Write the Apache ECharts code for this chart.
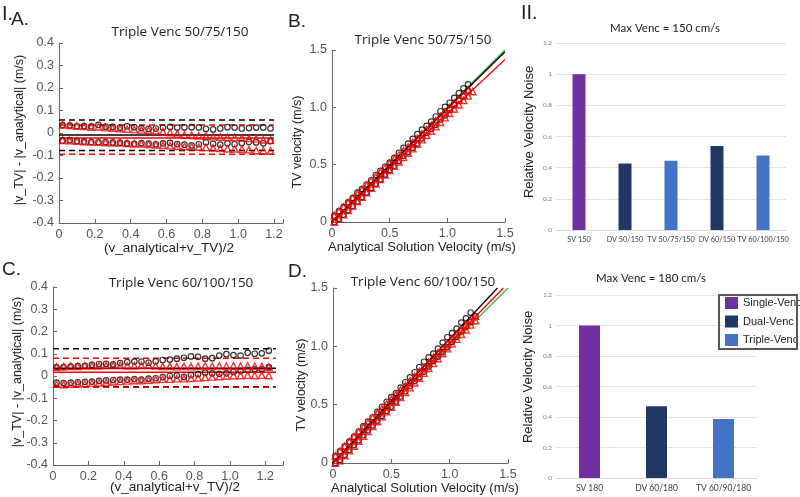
<!DOCTYPE html>
<html><head><meta charset="utf-8">
<script src="https://cdn.jsdelivr.net/npm/echarts@6/dist/echarts.min.js"></script>
<style>html,body{margin:0;padding:0;background:#fff}#c{width:800px;height:497px}</style>
</head><body><div id="c"></div>
<script>
// ---------- Panel A (Bland-Altman, Triple Venc 50/75/150) ----------
const aX = [0.02,0.06,0.10,0.14,0.18,0.22,0.26,0.30,0.34,0.38,0.42,0.46,0.50,0.54,0.58,0.62,0.66,0.70,0.74,0.78,0.82,0.86,0.90,0.94,0.98,1.02,1.06,1.10,1.14,1.18];
const aBlackUpper = [0.035,0.034,0.030,0.031,0.030,0.036,0.028,0.027,0.024,0.030,0.026,0.022,0.018,0.020,0.024,0.027,0.024,0.025,0.026,0.025,0.018,0.016,0.020,0.026,0.024,0.020,0.022,0.024,0.025,0.020];
const aBlackLower = [-0.034,-0.032,-0.036,-0.038,-0.040,-0.041,-0.040,-0.042,-0.043,-0.046,-0.048,-0.045,-0.047,-0.050,-0.046,-0.044,-0.049,-0.052,-0.055,-0.050,-0.042,-0.048,-0.052,-0.046,-0.050,-0.044,-0.040,-0.042,-0.046,-0.036];
const aRedUpper = [0.036,0.034,0.031,0.030,0.027,0.028,0.024,0.022,0.020,0.018,0.016,0.014,0.012,0.010,0.006,0.002,-0.004,-0.008,-0.010,-0.012,-0.014,-0.016,-0.018,-0.019,-0.020,-0.022,-0.024,-0.026,-0.030,-0.032];
const aRedLower = [-0.032,-0.034,-0.036,-0.038,-0.039,-0.040,-0.042,-0.043,-0.044,-0.046,-0.048,-0.048,-0.050,-0.052,-0.054,-0.056,-0.058,-0.060,-0.060,-0.062,-0.064,-0.066,-0.068,-0.070,-0.070,-0.072,-0.074,-0.078,-0.078,-0.080];
const aLineX = [0, 1.2];
const aBlackLevels = [-0.009, 0.058, -0.078];   // mean, upper limit, lower limit
const aRedLevels = [-0.022, 0.036, -0.094];

// ---------- Panel C (Bland-Altman, Triple Venc 60/100/150) ----------
const cX = [0.02,0.06,0.10,0.14,0.18,0.22,0.26,0.30,0.34,0.38,0.42,0.46,0.50,0.54,0.58,0.62,0.66,0.70,0.74,0.78,0.82,0.86,0.90,0.94,0.98,1.02,1.06,1.10,1.14,1.18,1.22];
const cBlackUpper = [0.040,0.040,0.042,0.044,0.046,0.050,0.054,0.055,0.052,0.058,0.062,0.065,0.064,0.060,0.066,0.072,0.074,0.078,0.082,0.088,0.086,0.078,0.080,0.092,0.098,0.094,0.092,0.104,0.100,0.102,0.114];
const cBlackLower = [-0.030,-0.032,-0.030,-0.028,-0.026,-0.025,-0.022,-0.020,-0.018,-0.016,-0.016,-0.014,-0.016,-0.012,-0.010,-0.005,0.000,0.002,-0.004,0.004,0.008,0.015,0.012,0.010,0.012,0.018,0.022,0.028,0.030,0.030,0.040];
const cRedUpper = [0.040,0.042,0.044,0.044,0.046,0.046,0.046,0.048,0.048,0.048,0.046,0.046,0.048,0.048,0.046,0.044,0.044,0.042,0.044,0.042,0.044,0.046,0.044,0.046,0.044,0.046,0.044,0.046,0.044,0.042,0.040];
const cRedLower = [-0.036,-0.038,-0.036,-0.034,-0.034,-0.032,-0.030,-0.028,-0.026,-0.024,-0.022,-0.020,-0.020,-0.018,-0.016,-0.014,-0.014,-0.012,-0.012,-0.010,-0.008,-0.006,-0.004,-0.002,0.000,0.002,0.002,0.004,0.002,0.004,0.002];
const cLineX = [0, 1.26];
const cBlackLevels = [0.035, 0.122, -0.048];
const cRedLevels = [0.017, 0.080, -0.050];

// ---------- Panel B (TV vs analytical, 50/75/150) ----------
const bX = [0.02,0.06,0.10,0.14,0.18,0.22,0.26,0.30,0.34,0.38,0.42,0.46,0.50,0.54,0.58,0.62,0.66,0.70,0.74,0.78,0.82,0.86,0.90,0.94,0.98,1.02,1.06,1.10,1.14,1.18,1.22];
const bBlackUpper = [0.055,0.094,0.130,0.171,0.210,0.256,0.288,0.327,0.364,0.410,0.446,0.482,0.518,0.560,0.604,0.647,0.684,0.725,0.766,0.805,0.838,0.876,0.920,0.966,1.004,1.040,1.082,1.124,1.165,1.200];
const bBlackLower = [0.000,0.028,0.064,0.102,0.140,0.179,0.220,0.258,0.297,0.334,0.372,0.415,0.453,0.490,0.534,0.576,0.611,0.648,0.685,0.730,0.778,0.812,0.848,0.894,0.930,0.976,1.020,1.058,1.094,1.144];
const bRedUpper = [0.056,0.094,0.131,0.170,0.207,0.248,0.284,0.322,0.360,0.398,0.436,0.474,0.512,0.550,0.586,0.622,0.656,0.692,0.730,0.768,0.806,0.844,0.882,0.921,0.960,0.998,1.036,1.074,1.110,1.148];
const bRedLower = [0.000,0.026,0.064,0.102,0.141,0.180,0.218,0.257,0.296,0.334,0.372,0.412,0.450,0.488,0.526,0.564,0.602,0.640,0.680,0.718,0.756,0.794,0.832,0.870,0.910,0.948,0.986,1.022,1.062,1.100,1.138];
const bGreenLine = [[0,0],[1.5,1.5]];
const bBlackLine = [[0,0],[1.5,1.485]];
const bRedLine = [[0,0],[1.5,1.418]];

// ---------- Panel D (TV vs analytical, 60/100/150) ----------
const dX = [0.02,0.06,0.10,0.14,0.18,0.22,0.26,0.30,0.34,0.38,0.42,0.46,0.50,0.54,0.58,0.62,0.66,0.70,0.74,0.78,0.82,0.86,0.90,0.94,0.98,1.02,1.06,1.10,1.14,1.18,1.22];
const dBlackUpper = [0.060,0.100,0.142,0.184,0.226,0.270,0.314,0.355,0.392,0.438,0.482,0.525,0.564,0.600,0.646,0.692,0.734,0.778,0.822,0.868,0.906,0.938,0.980,1.032,1.078,1.114,1.152,1.204,1.240,1.290];
const dBlackLower = [0.000,0.028,0.070,0.112,0.154,0.195,0.238,0.280,0.322,0.364,0.404,0.446,0.484,0.528,0.570,0.615,0.660,0.702,0.736,0.784,0.828,0.875,0.912,0.950,0.992,1.038,1.082,1.128,1.170,1.210,1.260];
const dRedUpper = [0.060,0.102,0.144,0.184,0.226,0.266,0.306,0.348,0.388,0.428,0.466,0.506,0.548,0.588,0.626,0.664,0.704,0.742,0.784,0.822,0.864,0.906,0.944,0.986,1.024,1.066,1.104,1.146,1.184,1.222,1.260];
const dRedLower = [0.000,0.022,0.064,0.106,0.146,0.188,0.230,0.272,0.314,0.356,0.398,0.440,0.480,0.522,0.564,0.606,0.646,0.688,0.728,0.770,0.812,0.854,0.896,0.938,0.980,1.022,1.062,1.104,1.142,1.184,1.222];
const dGreenLine = [[0,0],[1.5,1.5]];
const dBlackLine = [[0,0],[1.41,1.5]];
const dRedLine = [[0,0],[1.46,1.5]];

// ---------- Panel II (relative velocity noise) ----------
const vencTypes = ['Single-Venc','Dual-Venc','Triple-Venc'];
const vencColors = ['#7030A0','#203864','#4472C4'];
const topCategories = ['SV 150','DV 50/150','TV 50/75/150','DV 60/150','TV 60/100/150'];
const topValues = [1.0, 0.426, 0.444, 0.539, 0.478];
const topTypes = ['Single-Venc','Dual-Venc','Triple-Venc','Dual-Venc','Triple-Venc'];
const botCategories = ['SV 180','DV 60/180','TV 60/90/180'];
const botValues = [1.0, 0.470, 0.387];
const botTypes = ['Single-Venc','Dual-Venc','Triple-Venc'];

// ---------- helpers ----------
const AX = '#666', LAB = '#555', TXT = '#222';
const SANS = 'Liberation Sans, Arial, sans-serif';
function fmt(step){ return v => { const k = v/step; if (Math.abs(k-Math.round(k))>1e-6) return ''; if (Math.abs(v)<1e-9) return '0'; return v.toFixed(1); }; }
function valAxis(gi, min, max, step){
  return {type:'value', gridIndex:gi, min, max, interval:step,
    axisLine:{show:true, onZero:false, lineStyle:{color:AX, width:1}},
    axisTick:{show:true, inside:true, length:4, lineStyle:{color:AX}},
    axisLabel:{color:LAB, fontSize:12.5, fontFamily:SANS, margin:5, formatter:fmt(step)},
    splitLine:{show:false}};
}
function scatter(gi, xs, ys, symbol, color, size, bw, z){
  return {type:'scatter', xAxisIndex:gi, yAxisIndex:gi, symbol, symbolSize:size, silent:true, z:z,
    data: ys.map((y,i)=>[xs[i], y]),
    itemStyle:{color:'rgba(0,0,0,0)', borderColor:color, borderWidth:bw}};
}
function hlines(gi, range, levels, color){
  return levels.map((lv,i)=>({type:'line', xAxisIndex:gi, yAxisIndex:gi, symbol:'none', silent:true, z:2,
    data:[[range[0],lv],[range[1],lv]],
    lineStyle:{color, width:1.5, type: i===0 ? 'solid' : [6,4]}}));
}
function seg(gi, pts, color){
  return {type:'line', xAxisIndex:gi, yAxisIndex:gi, symbol:'none', silent:true, z:2, data:pts, lineStyle:{color, width:1.3}};
}
function bars(gi, values, types, width){
  return vencTypes.map((t,k)=>({type:'bar', name:t, xAxisIndex:gi, yAxisIndex:gi, barWidth:width, barGap:'-100%',
    data: values.map((v,i)=> types[i]===t ? v : null), itemStyle:{color:vencColors[k]}}));
}
function catAxis(gi, cats, fs){
  return {type:'category', gridIndex:gi, data:cats,
    axisLine:{show:true, lineStyle:{color:'#d9d9d9'}}, axisTick:{show:false},
    axisLabel:{color:'#404040', fontSize:fs, fontFamily:'Lato, sans-serif', margin:6, interval:0}};
}
function barYAxis(gi){
  return {type:'value', gridIndex:gi, min:0, max:1.2, interval:0.2,
    axisLine:{show:false}, axisTick:{show:false},
    axisLabel:{color:'#7f7f7f', fontSize:6.5, fontFamily:'Lato, sans-serif', margin:4},
    splitLine:{show:true, lineStyle:{color:'#e3e3e3', width:1}}};
}
function txt(text, x, y, size, opts){
  opts = opts || {};
  return {type:'text', x, y, rotation: opts.rot ? Math.PI/2 : 0, silent:true,
    style:{text, fill: opts.fill || TXT, fontSize:size, fontFamily: opts.font || SANS,
      align: opts.align || 'center', verticalAlign:'middle'}};
}

const chart = echarts.init(document.getElementById('c'));
const TITLE_FONT = 'Open Sans, sans-serif';
const CIRC = 5.5, TRI = 6.5, CBW = 1.2, TBW = 1.4;
const option = {
  animation:false,
  backgroundColor:'#fff',
  grid:[
    {left:59, top:43, width:224, height:180},
    {left:332, top:50, width:173, height:172},
    {left:53, top:287, width:230, height:178},
    {left:333, top:288, width:175, height:175},
    {left:556, top:43, width:230, height:187},
    {left:556, top:295, width:201, height:183}
  ],
  xAxis:[
    valAxis(0, 0, 1.25, 0.2),
    valAxis(1, 0, 1.5, 0.5),
    valAxis(2, 0, 1.3, 0.2),
    valAxis(3, 0, 1.5, 0.5),
    catAxis(4, topCategories, 7.3),
    catAxis(5, botCategories, 8.5)
  ],
  yAxis:[
    valAxis(0, -0.4, 0.4, 0.1),
    valAxis(1, 0, 1.5, 0.5),
    valAxis(2, -0.4, 0.4, 0.1),
    valAxis(3, 0, 1.5, 0.5),
    barYAxis(4),
    barYAxis(5)
  ],
  legend:{data:vencTypes, orient:'vertical', left:725, top:297, itemWidth:13, itemHeight:12, itemGap:6.5,
    icon:'rect', textStyle:{fontSize:11, fontFamily:SANS, color:'#222'}, padding:0, selectedMode:false},
  series:[
    ...hlines(0, aLineX, aBlackLevels, '#000'),
    ...hlines(0, aLineX, aRedLevels, '#ff0000'),
    scatter(0, aX, aBlackUpper, 'circle', '#000', CIRC, CBW, 3),
    scatter(0, aX, aBlackLower, 'circle', '#000', CIRC, CBW, 3),
    scatter(0, aX, aRedUpper, 'triangle', '#ff0000', TRI, TBW, 4),
    scatter(0, aX, aRedLower, 'triangle', '#ff0000', TRI, TBW, 4),

    seg(1, bGreenLine, '#3cb44b'), seg(1, bBlackLine, '#000'), seg(1, bRedLine, '#ff0000'),
    scatter(1, bX, bBlackUpper, 'circle', '#000', CIRC, CBW, 3),
    scatter(1, bX, bBlackLower, 'circle', '#000', CIRC, CBW, 3),
    scatter(1, bX, bRedUpper, 'triangle', '#ff0000', TRI, TBW, 4),
    scatter(1, bX, bRedLower, 'triangle', '#ff0000', TRI, TBW, 4),

    ...hlines(2, cLineX, cBlackLevels, '#000'),
    ...hlines(2, cLineX, cRedLevels, '#ff0000'),
    scatter(2, cX, cBlackUpper, 'circle', '#000', CIRC, CBW, 3),
    scatter(2, cX, cBlackLower, 'circle', '#000', CIRC, CBW, 3),
    scatter(2, cX, cRedUpper, 'triangle', '#ff0000', TRI, TBW, 4),
    scatter(2, cX, cRedLower, 'triangle', '#ff0000', TRI, TBW, 4),

    seg(3, dGreenLine, '#3cb44b'), seg(3, dBlackLine, '#000'), seg(3, dRedLine, '#ff0000'),
    scatter(3, dX, dBlackUpper, 'circle', '#000', CIRC, CBW, 3),
    scatter(3, dX, dBlackLower, 'circle', '#000', CIRC, CBW, 3),
    scatter(3, dX, dRedUpper, 'triangle', '#ff0000', TRI, TBW, 4),
    scatter(3, dX, dRedLower, 'triangle', '#ff0000', TRI, TBW, 4),

    ...bars(4, topValues, topTypes, 13),
    ...bars(5, botValues, botTypes, 21)
  ],
  graphic:[
    txt('I.', 2, 14, 20, {align:'left'}),
    txt('A.', 11, 20, 19, {align:'left'}),
    txt('B.', 288, 22, 19, {align:'left'}),
    txt('C.', 2, 270, 19, {align:'left'}),
    txt('D.', 288, 272, 19, {align:'left'}),
    txt('II.', 521, 13, 20, {align:'left'}),
    txt('Triple Venc 50/75/150', 180, 32, 13.5, {font:TITLE_FONT}),
    txt('Triple Venc 50/75/150', 423, 40, 13.5, {font:TITLE_FONT}),
    txt('Triple Venc 60/100/150', 181, 283, 13.5, {font:TITLE_FONT}),
    txt('Triple Venc 60/100/150', 423, 282, 13.5, {font:TITLE_FONT}),
    txt('Max Venc = 150 cm/s', 665, 28, 11.5, {font:'Lato, sans-serif'}),
    txt('Max Venc = 180 cm/s', 651, 278, 11.5, {font:'Lato, sans-serif'}),
    txt('|v_TV| - |v_analytical| (m/s)', 20, 130, 12.5, {rot:true}),
    txt('(v_analytical+v_TV)/2', 169, 248, 13.5),
    txt('TV velocity (m/s)', 298, 142, 12.5, {rot:true}),
    txt('Analytical Solution Velocity (m/s)', 422, 247, 13),
    txt('|v_TV| - |v_analytical| (m/s)', 18, 372, 12.5, {rot:true}),
    txt('(v_analytical+v_TV)/2', 175, 487, 13.5),
    txt('TV velocity (m/s)', 302, 385, 12.5, {rot:true}),
    txt('Analytical Solution Velocity (m/s)', 425, 488, 13),
    txt('Relative Velocity Noise', 529, 132, 13, {rot:true}),
    txt('Relative Velocity Noise', 528, 377, 13, {rot:true}),
    {type:'rect', shape:{x:719, y:295, width:78, height:54}, silent:true, z:10,
      style:{fill:'none', stroke:'#595959', lineWidth:2}}
  ]
};
chart.setOption(option);
</script></body></html>
